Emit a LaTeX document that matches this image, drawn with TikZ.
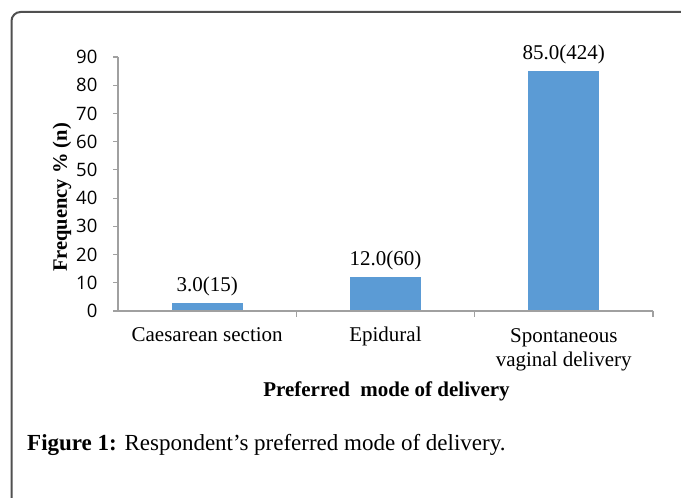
\documentclass[tikz,border=0pt]{standalone}
\usepackage{fontspec}
\setmainfont{Liberation Serif}
\newfontfamily\ticksans{Open Sans}
\usetikzlibrary{positioning}
\definecolor{barblue}{RGB}{91,155,213}
\definecolor{axisgray}{RGB}{160,160,160}
\definecolor{framegray}{RGB}{80,80,80}

\begin{document}
\begin{tikzpicture}[x=1pt,y=1pt]
  \tikzstyle{ax}=[draw=axisgray,line width=1.2pt]
  \tikzstyle{bar}=[fill=barblue,draw=none]
  \tikzstyle{val}=[font=\fontsize{21}{24}\selectfont]
  \tikzstyle{cat}=[font=\fontsize{21}{24}\selectfont,align=center,anchor=base]
  \tikzstyle{tk}=[font=\ticksans\fontsize{18.5}{20}\selectfont,inner sep=0pt]
  \tikzstyle{ttl}=[font=\bfseries\fontsize{20.5}{24}\selectfont]
  \useasboundingbox (0,0) rectangle (681,498);
  % frame, runs off the page right and bottom
  \draw[framegray,line width=2pt,rounded corners=9pt] (11.5,486) rectangle (740,-40);

  \begin{scope}[shift={(118,187)},x=178.3pt,y=2.822pt]
    % bars first, axis on top
    \foreach \c/\h/\t [count=\i] in {0.5/3/{3.0(15)},1.5/12/{12.0(60)},2.5/85/{85.0(424)}} {
      \fill[bar] (\c-0.199,0) rectangle (\c+0.199,\h);
      \node[val,above=3.5pt] (v\i) at (\c,\h) {\t};
    }
    \draw[ax] (0,0) coordinate (o) -- (0,90) coordinate (ytop);
    \draw[ax] (o) -- (3,0) coordinate (xend);
    \foreach \v in {0,10,...,90}
      \draw[ax] (0,\v) -- ++(-5pt,0) node[tk,left=15pt] (t\v) {\v};
    \foreach \c in {1,2,3}
      \draw[ax] (\c,0) -- ++(0,-6pt);
    % category names (base = last line)
    \node[cat] (c1) at (0.5,-31pt) {Caesarean section};
    \node[cat] (c2) at (1.5,-31pt) {Epidural};
    \node[cat] (c3) at (2.5,-55.5pt) {Spontaneous\\vaginal delivery};
  \end{scope}

  \node[ttl,rotate=90] (ytitle) at (62,300.5) {Frequency \% (n)};
  \node[ttl,font=\bfseries\fontsize{21}{24}\selectfont,anchor=base] (xtitle) at (386.5,101.3) {Preferred \ mode of delivery};
  \node[anchor=base west,inner sep=0pt,font=\fontsize{23}{26}\selectfont] (cap) at (27,47)
    {\textbf{Figure 1:} Respondent's preferred mode of delivery.};
\end{tikzpicture}
\end{document}
